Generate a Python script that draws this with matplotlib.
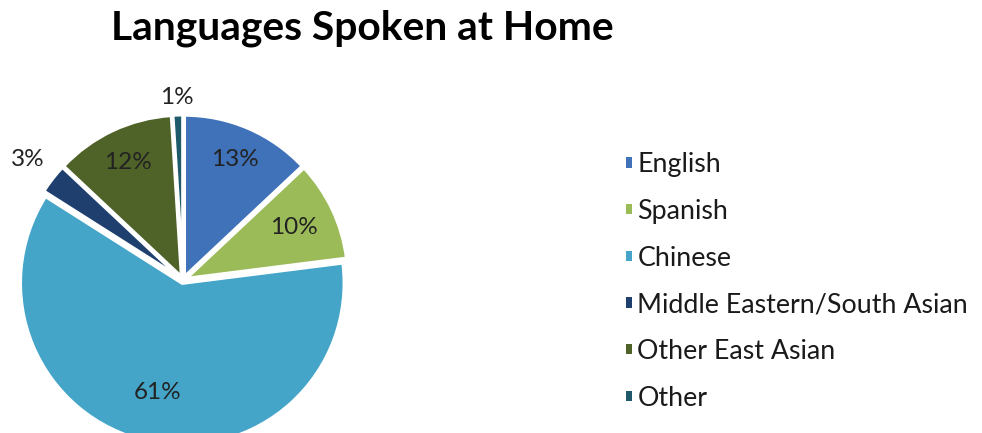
import numpy as np
import matplotlib
matplotlib.use('Agg')
import matplotlib.pyplot as plt
from matplotlib.patches import Patch

# data
languages = ['English', 'Spanish', 'Chinese', 'Middle Eastern/South Asian',
             'Other East Asian', 'Other']
shares = [13, 10, 61, 3, 12, 1]
colors = ['#3f72b8', '#9bbb59', '#45a5c8', '#1f3f6e', '#4f6228', '#1f5a6a']
label_radius = [0.81, 0.76, 0.71, 1.21, 0.80, 1.13]

plt.rcParams['font.family'] = ['Lato', 'DejaVu Sans']

fig = plt.figure(figsize=(9.82, 4.33), dpi=100)
W, H = 982, 433

# pie centre (183, 280) px, radius 162 px
cx, cy, r = 183, 280, 162
ax = fig.add_axes([(cx - r) / W, (H - cy - r) / H, 2 * r / W, 2 * r / H])
wedges, _ = ax.pie(shares, colors=colors, startangle=90, counterclock=False,
                   radius=1, explode=[0.02] * len(shares),
                   wedgeprops=dict(edgecolor='white', linewidth=2.5))
for w in wedges:
    w.set_clip_on(False)
ax.set_xlim(-1, 1)
ax.set_ylim(-1, 1)
ax.set_aspect('auto')
ax.axis('off')

for w, pct, rad in zip(wedges, shares, label_radius):
    ang = np.deg2rad((w.theta1 + w.theta2) / 2)
    ax.text(rad * np.cos(ang), rad * np.sin(ang), f'{pct}%',
            ha='center', va='center', fontsize=17.5, color='#222222',
            clip_on=False)

fig.text(0.369, 1 - 28 / H, 'Languages Spoken at Home', ha='center', va='center',
         fontsize=29.3, fontweight='bold', color='black')

handles = [Patch(facecolor=c, edgecolor='none') for c in colors]
leg = fig.legend(handles, languages, loc='upper left',
                 bbox_to_anchor=(602 / W, 1 - 128 / H), frameon=False,
                 fontsize=19.3, handlelength=0.22, handleheight=0.22,
                 handletextpad=0.2, labelspacing=0.81)
for t in leg.get_texts():
    t.set_color('#1a1a1a')

fig.savefig('out.png', dpi=100, facecolor='white')
